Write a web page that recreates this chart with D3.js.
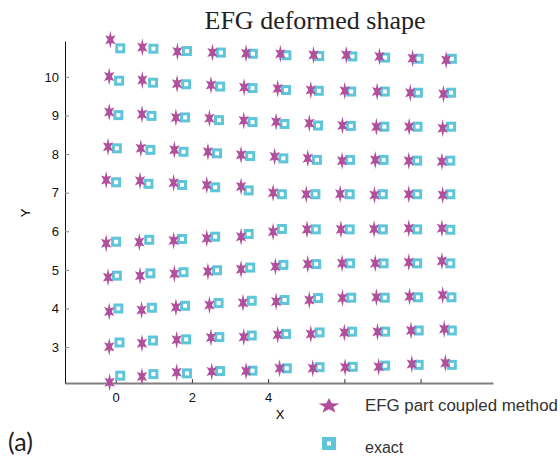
<!DOCTYPE html>
<meta charset="utf-8">
<style>
body { margin: 0; background: #fff; }
.axis text { font-family: Arial, "Liberation Sans", sans-serif; font-size: 13px; fill: #111; }
</style>
<svg width="560" height="459"></svg>
<script src="https://d3js.org/d3.v7.min.js"></script>
<script>
// EFG part coupled method (stars), rows from top to bottom
var efgX = [
  [-0.14, 0.70, 1.62, 2.54, 3.42, 4.32, 5.19, 6.05, 6.92, 7.79, 8.67],
  [-0.17, 0.70, 1.61, 2.50, 3.37, 4.25, 5.12, 6.01, 6.86, 7.73, 8.60],
  [-0.17, 0.69, 1.58, 2.46, 3.36, 4.21, 5.08, 5.95, 6.84, 7.70, 8.58],
  [-0.20, 0.66, 1.54, 2.42, 3.29, 4.17, 5.04, 5.94, 6.81, 7.69, 8.56],
  [-0.25, 0.64, 1.52, 2.39, 3.29, 4.13, 5.00, 5.89, 6.79, 7.69, 8.58],
  [-0.25, 0.62, 1.52, 2.39, 3.29, 4.13, 5.02, 5.91, 6.78, 7.69, 8.56],
  [-0.20, 0.64, 1.54, 2.42, 3.29, 4.19, 5.04, 5.94, 6.81, 7.69, 8.56],
  [-0.17, 0.68, 1.58, 2.46, 3.34, 4.21, 5.08, 5.95, 6.84, 7.71, 8.58],
  [-0.17, 0.69, 1.60, 2.50, 3.36, 4.25, 5.12, 6.00, 6.87, 7.75, 8.62],
  [-0.16, 0.69, 1.60, 2.52, 3.42, 4.30, 5.17, 6.02, 6.90, 7.77, 8.65]
];
var efgY = [
  [10.96, 10.77, 10.66, 10.63, 10.61, 10.60, 10.57, 10.57, 10.53, 10.48, 10.44],
  [10.01, 9.92, 9.82, 9.79, 9.73, 9.70, 9.66, 9.64, 9.62, 9.59, 9.56],
  [9.09, 9.03, 8.95, 8.93, 8.87, 8.84, 8.80, 8.74, 8.71, 8.71, 8.67],
  [8.19, 8.15, 8.11, 8.06, 7.98, 7.94, 7.89, 7.83, 7.85, 7.83, 7.81],
  [7.33, 7.31, 7.26, 7.20, 7.16, 7.00, 6.96, 6.97, 6.94, 6.96, 6.94],
  [5.69, 5.72, 5.76, 5.82, 5.86, 5.99, 6.05, 6.05, 6.06, 6.08, 6.08],
  [4.81, 4.85, 4.90, 4.96, 5.02, 5.09, 5.15, 5.17, 5.17, 5.20, 5.23],
  [3.92, 3.96, 4.03, 4.09, 4.15, 4.18, 4.22, 4.27, 4.29, 4.31, 4.35],
  [3.01, 3.10, 3.19, 3.25, 3.26, 3.32, 3.34, 3.38, 3.40, 3.43, 3.47],
  [2.09, 2.24, 2.35, 2.37, 2.38, 2.45, 2.45, 2.48, 2.49, 2.56, 2.59]
];
// exact solution (squares)
var exactX = [
  [0.12, 0.99, 1.87, 2.76, 3.60, 4.48, 5.34, 6.21, 7.07, 7.95, 8.82],
  [0.09, 0.98, 1.85, 2.74, 3.59, 4.47, 5.33, 6.18, 7.06, 7.93, 8.80],
  [0.07, 0.94, 1.82, 2.71, 3.59, 4.43, 5.31, 6.17, 7.05, 7.92, 8.80],
  [0.03, 0.91, 1.78, 2.66, 3.53, 4.40, 5.28, 6.15, 7.03, 7.91, 8.78],
  [0.01, 0.86, 1.74, 2.61, 3.49, 4.36, 5.24, 6.14, 7.01, 7.91, 8.78],
  [0.01, 0.88, 1.74, 2.61, 3.49, 4.36, 5.25, 6.14, 7.01, 7.91, 8.78],
  [0.03, 0.91, 1.78, 2.66, 3.53, 4.40, 5.26, 6.15, 7.03, 7.91, 8.78],
  [0.07, 0.95, 1.82, 2.70, 3.57, 4.43, 5.31, 6.18, 7.06, 7.93, 8.81],
  [0.10, 0.98, 1.85, 2.72, 3.57, 4.47, 5.35, 6.20, 7.07, 7.95, 8.82],
  [0.12, 0.99, 1.87, 2.74, 3.59, 4.49, 5.35, 6.22, 7.07, 7.95, 8.82]
];
var exactY = [
  [10.74, 10.73, 10.67, 10.63, 10.60, 10.56, 10.54, 10.53, 10.50, 10.47, 10.47],
  [9.90, 9.85, 9.81, 9.75, 9.71, 9.66, 9.64, 9.62, 9.62, 9.59, 9.59],
  [9.01, 8.99, 8.95, 8.88, 8.83, 8.78, 8.74, 8.73, 8.71, 8.71, 8.71],
  [8.15, 8.11, 8.06, 8.02, 7.95, 7.89, 7.85, 7.85, 7.85, 7.83, 7.83],
  [7.27, 7.23, 7.20, 7.14, 7.06, 6.96, 6.96, 6.96, 6.96, 6.96, 6.96],
  [5.73, 5.78, 5.80, 5.86, 5.93, 6.06, 6.05, 6.05, 6.05, 6.05, 6.04],
  [4.85, 4.91, 4.94, 4.99, 5.06, 5.13, 5.15, 5.17, 5.17, 5.17, 5.17],
  [4.00, 4.02, 4.07, 4.14, 4.20, 4.22, 4.27, 4.28, 4.28, 4.29, 4.29],
  [3.12, 3.17, 3.20, 3.26, 3.30, 3.34, 3.38, 3.40, 3.40, 3.43, 3.43],
  [2.26, 2.30, 2.32, 2.38, 2.39, 2.45, 2.48, 2.49, 2.52, 2.54, 2.54]
];

var xTicks = [0, 2, 4, 6, 8];
var xTickLabels = ["0", "2", "4", "", ""];   // 6 and 8 sit under the legend
var yTicks = [3, 4, 5, 6, 7, 8, 9, 10];
var seriesNames = ["EFG part coupled method", "exact"];

var starColor = "#b24f9d",
    squareColor = "#5fc6da";

var svg = d3.select("svg");

var x = d3.scaleLinear().domain([-1.33, 9.9]).range([65, 493]);
var y = d3.scaleLinear().domain([2.07, 10.93]).range([383, 41]);

// flatten rows into point lists
function points(xs, ys) {
  var out = [];
  xs.forEach(function(row, i) {
    row.forEach(function(v, j) { out.push({x: v, y: ys[i][j]}); });
  });
  return out;
}
var efgPts = points(efgX, efgY),
    exactPts = points(exactX, exactY);

// star path with n points, stretched by rx / ry
function starPath(n, rx, ry, inner) {
  var p = d3.path();
  for (var k = 0; k < 2 * n; k++) {
    var a = -Math.PI / 2 + k * Math.PI / n,
        r = (k % 2) ? inner : 1;
    var px = Math.cos(a) * r * rx, py = Math.sin(a) * r * ry;
    if (k === 0) p.moveTo(px, py); else p.lineTo(px, py);
  }
  p.closePath();
  return p.toString();
}

// title
svg.append("text")
    .attr("x", 315).attr("y", 29)
    .attr("text-anchor", "middle")
    .style("font-family", "'Liberation Serif', 'Times New Roman', serif")
    .style("font-size", "26px")
    .style("fill", "#222")
    .text("EFG deformed shape");

// axes
var gx = svg.append("g").attr("class", "axis")
    .attr("transform", "translate(0,383)")
    .call(d3.axisBottom(x).tickValues(xTicks)
      .tickFormat(function(d, i) { return xTickLabels[i]; })
      .tickSizeInner(-4).tickSizeOuter(0).tickPadding(10));
gx.select(".domain").attr("stroke", "#808080").attr("stroke-width", 2);
gx.selectAll(".tick line").attr("stroke", "#333");

var gy = svg.append("g").attr("class", "axis")
    .attr("transform", "translate(65,0)")
    .call(d3.axisLeft(y).tickValues(yTicks).tickSizeInner(-4).tickSizeOuter(0).tickPadding(6));
gy.select(".domain").attr("stroke", "#111").attr("stroke-width", 1);
gy.selectAll(".tick line").attr("stroke", "#888");

svg.append("text")
    .attr("x", 280).attr("y", 419)
    .attr("text-anchor", "middle")
    .style("font-family", "Arial, sans-serif").style("font-size", "13px")
    .text("X");
svg.append("text")
    .attr("transform", "translate(30,213) rotate(-90)")
    .attr("text-anchor", "middle")
    .style("font-family", "Arial, sans-serif").style("font-size", "13px")
    .text("Y");

// exact squares
svg.append("g").selectAll("rect")
    .data(exactPts)
  .enter().append("rect")
    .attr("x", function(d) { return x(d.x) - 3.5; })
    .attr("y", function(d) { return y(d.y) - 3.5; })
    .attr("width", 7).attr("height", 7)
    .attr("fill", "#fff")
    .attr("stroke", squareColor)
    .attr("stroke-width", 3);

// EFG stars
var hexStar = starPath(6, 6, 9, 0.42);
svg.append("g").selectAll("path")
    .data(efgPts)
  .enter().append("path")
    .attr("d", hexStar)
    .attr("transform", function(d) { return "translate(" + x(d.x) + "," + y(d.y) + ")"; })
    .attr("fill", starColor);

// legend
var legend = svg.append("g");
legend.append("path")
    .attr("d", starPath(5, 11, 8, 0.42))
    .attr("transform", "translate(329,406)")
    .attr("fill", starColor);
legend.append("rect")
    .attr("x", 322).attr("y", 437).attr("width", 14).attr("height", 13)
    .attr("fill", squareColor);
legend.append("rect")
    .attr("x", 327).attr("y", 441.5).attr("width", 4).attr("height", 4)
    .attr("fill", "#fff");
legend.selectAll("text")
    .data(seriesNames)
  .enter().append("text")
    .attr("x", 365)
    .attr("y", function(d, i) { return i ? 453 : 411; })
    .attr("textLength", function(d, i) { return i ? null : 193; })
    .attr("lengthAdjust", "spacingAndGlyphs")
    .style("font-family", "Arial, 'Liberation Sans', sans-serif")
    .style("font-size", "16px")
    .style("fill", "#333")
    .text(function(d) { return d; });

// panel label
svg.append("text")
    .attr("x", 8).attr("y", 451)
    .style("font-family", "Lato, 'Open Sans', sans-serif")
    .style("font-size", "25px")
    .style("fill", "#222")
    .text("(a)");
</script>
